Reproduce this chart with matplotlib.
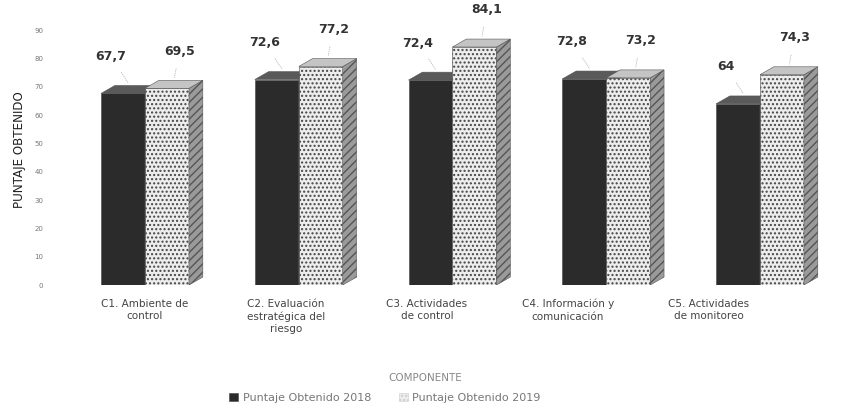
import numpy as np
import matplotlib.pyplot as plt
from matplotlib.patches import Polygon

componentes = ["C1. Ambiente de\ncontrol", "C2. Evaluación\nestratégica del\nriesgo",
               "C3. Actividades\nde control", "C4. Información y\ncomunicación",
               "C5. Actividades\nde monitoreo"]
puntaje_2018 = [67.7, 72.6, 72.4, 72.8, 64]
puntaje_2019 = [69.5, 77.2, 84.1, 73.2, 74.3]
series = ["Puntaje Obtenido 2018", "Puntaje Obtenido 2019"]

fig = plt.figure(figsize=(8.43, 4.09), dpi=100)
ax = fig.add_axes([60/843, 1-285/409, 783/843, 270/409])

x = np.arange(len(componentes))
w = 0.286
dx, dy = 0.09, 2.8

frente = ["#2b2b2b", "#ededed"]
lado = ["#555555", "#9a9a9a"]
tapa = ["#5a5a5a", "#c4c4c4"]

def barra3d(xc, h, i):
    ax.bar(xc, h, w, color=frente[i], edgecolor="#444444", linewidth=0.4,
           hatch="...." if i == 1 else None, zorder=2 + i * 3)
    x0, x1 = xc - w/2, xc + w/2
    ax.add_patch(Polygon([(x1, 0), (x1+dx, dy), (x1+dx, h+dy), (x1, h)],
                         facecolor=lado[i], edgecolor="#555555", linewidth=0.4,
                         hatch="////" if i == 1 else None, zorder=3 + i * 3))
    ax.add_patch(Polygon([(x0, h), (x0+dx, h+dy), (x1+dx, h+dy), (x1, h)],
                         facecolor=tapa[i], edgecolor="#555555", linewidth=0.4,
                         zorder=4 + i * 3))

for k in range(len(x)):
    barra3d(x[k] - w/2, puntaje_2018[k], 0)
    barra3d(x[k] + w/2, puntaje_2019[k], 1)

for k in range(len(x)):
    for i, vals in enumerate([puntaje_2018, puntaje_2019]):
        xc = x[k] - w/2 if i == 0 else x[k] + w/2
        off = -14 if i == 0 else 4
        ax.annotate(f"{vals[k]:g}".replace(".", ","), (xc + dx/2, vals[k] + dy),
                    xytext=(off, 21), textcoords="offset points",
                    ha="center", va="center", fontsize=9, fontweight="bold",
                    color="#333333", annotation_clip=False,
                    arrowprops=dict(arrowstyle="-", color="#bbbbbb", lw=0.6,
                                    linestyle=":", shrinkA=6, shrinkB=2))

ax.set_xlim(-0.553, 4.54)
ax.set_ylim(0, 95.4)
ax.set_yticks(np.arange(0, 91, 10))
ax.tick_params(axis="y", length=0, labelsize=5, labelcolor="#777777", pad=12)
ax.set_xticks(x * 0.917)
ax.set_xticklabels(componentes, fontsize=7.5, color="#444444", linespacing=1.3)
ax.tick_params(axis="x", length=0, pad=10)
for s in ax.spines.values():
    s.set_visible(False)

ax.set_ylabel("PUNTAJE OBTENIDO", family=["Liberation Sans Narrow", "DejaVu Sans"],
              fontstretch="condensed", fontsize=9.5, color="#222222", labelpad=6)
ax.set_xlabel("COMPONENTE", fontsize=7.5, color="#888888", labelpad=8)
ax.xaxis.set_label_coords((425-60)/783, -88/270)

h1 = plt.Rectangle((0, 0), 1, 1, facecolor=frente[0], edgecolor="#444444", lw=0.4)
h2 = plt.Rectangle((0, 0), 1, 1, facecolor=frente[1], edgecolor="#cccccc", lw=0.4, hatch="....")
fig.legend([h1, h2], series, loc="center", bbox_to_anchor=(385/843, 1-398/409),
           ncol=2, frameon=False, fontsize=8, labelcolor="#777777",
           handlelength=0.8, handleheight=0.8, columnspacing=2.5, handletextpad=0.4)

fig.savefig("out.png", dpi=100)
